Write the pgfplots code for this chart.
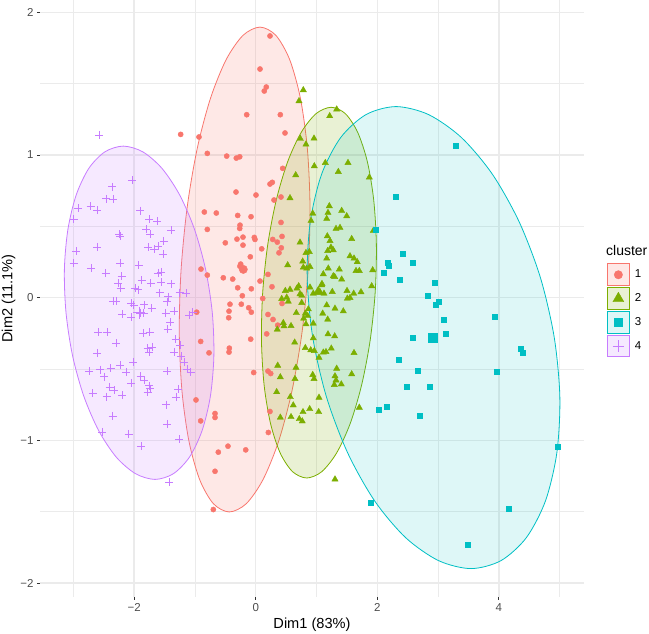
\documentclass[border=0pt]{standalone}
\usepackage{pgfplots}
\pgfplotsset{compat=1.18}
\usepackage{pgfplotstable}
\usepackage{fontspec}
\setmainfont{Liberation Sans}

\definecolor{c1}{HTML}{F8766D}
\definecolor{c2}{HTML}{7CAE00}
\definecolor{c3}{HTML}{00BFC4}
\definecolor{c4}{HTML}{C77CFF}
\definecolor{gridc}{HTML}{EBEBEB}
\definecolor{tickc}{HTML}{333333}
\definecolor{tickl}{HTML}{4D4D4D}

\pgfplotsset{
  keyimg/.style n args={3}{legend image code/.code={%
    \draw[#1, fill=#1!#3, line width=1pt] (0pt,-10.8pt) rectangle (22pt,10.8pt);
    \draw[##1, mark size=#2] plot coordinates {(11pt,0pt)};}},
}

% cluster 1
\pgfplotstableread{
x y
0.235 1.834
0.071 1.602
0.174 1.476
0.141 1.448
-0.148 1.282
0.405 1.282
0.482 1.154
-1.234 1.144
-0.933 1.126
-0.796 1.011
-0.477 0.992
-0.319 0.978
-0.263 0.987
0.444 0.906
0.235 0.796
0.273 0.808
-0.324 0.740
0.005 0.719
0.301 0.684
0.416 0.705
-0.845 0.600
-0.648 0.593
-0.296 0.576
-0.077 0.567
-0.258 0.508
-0.263 0.485
0.416 0.527
-0.796 0.478
-0.308 0.410
-0.209 0.424
-0.023 0.422
-0.012 0.408
-0.500 0.384
-0.209 0.368
0.280 0.408
0.355 0.389
0.433 0.429
0.421 0.349
0.099 0.342
0.383 0.314
-0.089 0.286
-0.247 0.235
-0.260 0.220
-0.900 0.200
-0.796 0.158
-0.533 0.139
-0.378 0.130
0.071 0.116
0.202 0.163
-0.296 0.069
-0.072 0.062
0.268 0.076
-0.220 0.013
0.115 -0.006
-0.423 -0.046
-0.237 -0.046
-0.115 -0.071
-0.072 -0.102
-0.439 -0.095
-0.444 -0.141
0.202 -0.118
0.285 -0.153
0.362 -0.193
0.433 -0.041
0.181 -0.254
-0.082 -0.291
-0.905 -0.307
-0.768 -0.387
-0.434 -0.354
-0.439 -0.382
-0.033 -0.525
0.202 -0.515
0.247 -0.532
-0.669 -0.812
-0.669 -0.840
0.235 -0.798
-0.905 -0.864
-0.970 -0.102
-0.982 -0.717
-0.615 -1.083
-0.669 -1.217
0.208 -0.945
-0.456 -1.041
-0.164 -1.067
-0.697 -1.485
}\clA

% cluster 2
\pgfplotstableread{
x y
0.783 1.455
0.712 1.378
1.332 1.320
1.217 1.273
0.734 1.114
0.959 1.116
0.827 1.074
0.964 0.922
1.145 0.945
1.359 0.882
0.658 0.859
1.518 0.945
1.869 0.843
0.564 0.698
1.211 0.642
1.414 0.609
0.938 0.590
1.189 0.595
1.497 0.572
1.168 0.553
0.910 0.539
1.321 0.483
1.387 0.490
1.934 0.469
1.178 0.431
1.222 0.398
1.579 0.412
0.729 0.387
1.238 0.352
1.276 0.333
1.184 0.328
1.551 0.291
1.617 0.275
1.670 0.250
1.168 0.275
0.882 0.321
0.827 0.314
0.773 0.254
0.526 0.228
0.893 0.216
0.783 0.212
0.839 0.205
1.194 0.205
1.375 0.198
1.650 0.188
1.704 0.188
1.924 0.193
1.112 0.165
1.276 0.151
1.299 0.146
1.414 0.128
1.090 0.097
1.086 0.088
1.908 0.081
0.893 0.072
0.707 0.081
0.679 0.065
0.564 0.057
0.487 0.048
0.947 0.029
1.058 0.039
1.123 0.029
1.260 0.041
1.502 0.048
1.612 0.029
1.732 0.039
1.551 -0.001
0.729 0.025
0.757 0.015
0.428 -0.008
0.510 0.001
0.536 -0.027
1.507 -0.006
0.757 -0.036
1.168 -0.053
1.304 -0.076
1.441 -0.095
1.102 -0.111
0.668 -0.107
0.816 -0.111
0.866 -0.081
0.855 -0.128
0.789 -0.146
0.947 -0.181
0.827 -0.186
1.184 -0.153
0.454 -0.177
0.465 -0.200
0.581 -0.198
0.355 -0.223
1.189 -0.256
1.299 -0.270
0.947 -0.284
0.641 -0.314
0.816 -0.352
0.905 -0.368
0.964 -0.373
1.112 -0.384
1.156 -0.380
1.243 -0.356
1.617 -0.387
1.041 -0.420
0.362 -0.476
0.663 -0.490
1.332 -0.497
0.405 -0.557
0.646 -0.569
0.938 -0.541
0.959 -0.569
1.579 -0.536
1.304 -0.550
1.321 -0.579
1.293 -0.611
1.408 -0.607
0.345 -0.661
0.569 -0.696
1.041 -0.700
0.618 -0.754
0.778 -0.801
0.888 -0.780
1.036 -0.801
1.704 -0.770
0.405 -0.840
0.581 -0.836
0.717 -0.850
0.766 -0.866
1.304 -1.273
}\clB

% cluster 3
\pgfplotstableread{
x y
3.283 1.065
2.303 0.707
1.979 0.473
2.165 0.247
2.192 0.223
2.418 0.305
2.587 0.247
2.099 0.174
2.368 0.123
2.949 0.107
2.822 0.011
2.961 -0.050
3.003 -0.029
3.097 -0.153
3.936 -0.135
2.582 -0.284
3.125 -0.254
4.359 -0.356
4.391 -0.384
2.345 -0.438
2.669 -0.511
3.964 -0.520
2.477 -0.625
2.855 -0.623
2.017 -0.784
2.148 -0.766
2.697 -0.829
4.961 -1.043
1.896 -1.436
4.166 -1.478
3.487 -1.731
}\clC

% cluster 4
\pgfplotstableread{
x y
-2.572 1.140
-2.034 0.822
-2.359 0.777
-2.457 0.693
-2.347 0.691
-2.918 0.625
-2.714 0.642
-2.610 0.611
-2.993 0.550
-1.903 0.609
-1.750 0.548
-1.618 0.536
-1.388 0.471
-1.804 0.478
-1.734 0.445
-2.248 0.445
-2.227 0.433
-1.513 0.398
-2.951 0.326
-2.610 0.356
-1.771 0.352
-1.668 0.342
-1.602 0.359
-1.520 0.303
-2.993 0.240
-2.704 0.207
-2.467 0.172
-2.227 0.244
-1.924 0.226
-2.204 0.149
-1.607 0.174
-1.553 0.181
-1.875 0.121
-2.260 0.102
-2.220 0.065
-1.985 0.065
-1.931 0.057
-1.727 0.102
-1.553 0.109
-1.393 0.097
-1.579 0.034
-1.437 0.006
-1.250 0.036
-1.141 0.029
-2.342 -0.025
-2.298 -0.025
-2.051 -0.041
-2.007 -0.053
-1.832 -0.050
-1.711 -0.076
-1.898 -0.107
-2.194 -0.118
-2.051 -0.139
-1.842 -0.107
-1.480 -0.107
-1.459 -0.029
-1.344 -0.093
-1.405 -0.170
-1.447 -0.223
-1.097 -0.121
-1.036 -0.102
-2.589 -0.244
-2.446 -0.242
-1.849 -0.251
-1.743 -0.240
-2.293 -0.319
-1.316 -0.291
-1.240 -0.331
-2.605 -0.387
-1.776 -0.356
-1.701 -0.345
-1.755 -0.384
-1.344 -0.380
-1.229 -0.410
-1.174 -0.450
-2.018 -0.450
-2.737 -0.513
-2.556 -0.504
-2.385 -0.494
-2.232 -0.471
-2.490 -0.553
-2.128 -0.522
-1.454 -0.513
-1.125 -0.499
-1.069 -0.520
-1.891 -0.550
-1.832 -0.579
-2.051 -0.597
-1.755 -0.616
-1.738 -0.637
-1.776 -0.661
-2.401 -0.626
-2.326 -0.649
-2.681 -0.670
-2.451 -0.693
-2.199 -0.684
-1.273 -0.640
-1.311 -0.696
-1.470 -0.749
-2.352 -0.829
-1.454 -0.885
-2.528 -0.941
-2.089 -0.955
-1.882 -1.039
-1.262 -0.992
-1.421 -1.292
}\clD

% cluster centres
\pgfplotstableread{
x y
-0.204 0.198
}\cenA
\pgfplotstableread{
x y
1.030 0.041
}\cenB
\pgfplotstableread{
x y
2.911 -0.282
}\cenC
\pgfplotstableread{
x y
-1.917 -0.106
}\cenD

% ellipse outlines (24 points each)
\pgfplotstableread{
x y
0.863 0.197
0.893 0.637
0.849 1.047
0.735 1.398
0.559 1.668
0.332 1.838
0.070 1.896
-0.209 1.838
-0.486 1.668
-0.743 1.398
-0.961 1.047
-1.126 0.637
-1.227 0.197
-1.257 -0.243
-1.213 -0.653
-1.099 -1.004
-0.923 -1.274
-0.696 -1.444
-0.434 -1.502
-0.155 -1.444
0.122 -1.274
0.379 -1.004
0.597 -0.653
0.762 -0.243
}\elA
\pgfplotstableread{
x y
1.965 0.035
1.985 0.371
1.941 0.685
1.836 0.954
1.676 1.160
1.473 1.290
1.240 1.334
0.994 1.290
0.751 1.160
0.527 0.954
0.339 0.685
0.198 0.371
0.115 0.035
0.095 -0.301
0.139 -0.615
0.245 -0.884
0.404 -1.090
0.607 -1.220
0.840 -1.264
1.086 -1.220
1.329 -1.090
1.553 -0.884
1.741 -0.615
1.882 -0.301
}\elB
\pgfplotstableread{
x y
4.911 -0.280
4.684 0.139
4.336 0.529
3.893 0.865
3.384 1.122
2.843 1.283
2.308 1.339
1.815 1.283
1.398 1.122
1.084 0.865
0.897 0.529
0.847 0.139
0.939 -0.280
1.166 -0.699
1.514 -1.089
1.957 -1.425
2.466 -1.682
3.007 -1.843
3.542 -1.899
4.035 -1.843
4.452 -1.682
4.766 -1.425
4.953 -1.089
5.003 -0.699
}\elC
\pgfplotstableread{
x y
-0.714 -0.106
-0.823 0.196
-1.006 0.478
-1.251 0.720
-1.542 0.906
-1.858 1.022
-2.178 1.062
-2.480 1.022
-2.745 0.906
-2.952 0.720
-3.089 0.478
-3.147 0.196
-3.120 -0.106
-3.012 -0.408
-2.828 -0.690
-2.583 -0.932
-2.293 -1.118
-1.976 -1.234
-1.656 -1.274
-1.354 -1.234
-1.090 -1.118
-0.882 -0.932
-0.745 -0.690
-0.688 -0.408
}\elD

\begin{document}
\begin{tikzpicture}
\begin{axis}[
  scale only axis, clip=false,
  width=544pt, height=597pt,
  xmin=-3.548, xmax=5.40, ymin=-2.098, ymax=2.086,
  axis line style={draw=none},
  xtick pos=bottom, ytick pos=left,
  xtick={-2,0,2,4}, xticklabels={−2,0,2,4},
  ytick={-2,-1,0,1,2}, yticklabels={−2,−1,0,1,2},
  minor xtick={-3,-1,1,3,5}, minor ytick={-1.5,-0.5,0.5,1.5},
  grid=both,
  major grid style={color=gridc, line width=1.3pt},
  minor grid style={color=gridc, line width=0.7pt},
  tick align=outside, major tick length=3pt, minor tick length=0pt,
  major tick style={color=tickc, line width=0.8pt},
  tick label style={font=\fontsize{11.5}{13}\selectfont, text=tickl},
  xlabel={Dim1 (83\%)}, ylabel={Dim2 (11.1\%)},
  xlabel style={at={(axis description cs:0.5,-0.0352)}, anchor=north, inner sep=0pt, font=\fontsize{14.6}{16}\selectfont},
  ylabel style={at={(axis description cs:-0.0579,0.5)}, anchor=center, inner sep=0pt, font=\fontsize{14.6}{16}\selectfont},
  legend style={at={(axis description cs:1.0417,0.559)}, anchor=north west, draw=none, fill=none, inner sep=0pt, row sep=1.2pt, column sep=3pt, font=\fontsize{11.5}{13}\selectfont},
  legend cell align=left,
]
% points
\addplot[only marks, mark=*, mark size=2.6pt, color=c1, keyimg={c1}{4.2pt}{17}] table {\clA};
\addlegendentry{1}
\addplot[only marks, mark=triangle*, mark size=3.6pt, color=c2, keyimg={c2}{6.3pt}{17}] table {\clB};
\addlegendentry{2}
\addplot[only marks, mark=square*, mark size=2.5pt, color=c3, keyimg={c3}{3.7pt}{13}] table {\clC};
\addlegendentry{3}
\addplot[only marks, mark=+, mark size=4pt, color=c4, line width=0.6pt, keyimg={c4}{5.8pt}{17}] table {\clD};
\addlegendentry{4}
% centres
\addplot[forget plot, only marks, mark=*, mark size=4.2pt, color=c1] table {\cenA};
\addplot[forget plot, only marks, mark=triangle*, mark size=5.6pt, color=c2] table {\cenB};
\addplot[forget plot, only marks, mark=square*, mark size=4.2pt, color=c3] table {\cenC};
\addplot[forget plot, only marks, mark=+, mark size=6pt, color=c4, line width=0.8pt] table {\cenD};
% ellipses
\addplot[forget plot, smooth cycle, draw=c1, line width=0.8pt, fill=c1, fill opacity=0.17] table {\elA};
\addplot[forget plot, smooth cycle, draw=c2, line width=0.8pt, fill=c2, fill opacity=0.17] table {\elB};
\addplot[forget plot, smooth cycle, draw=c3, line width=0.8pt, fill=c3, fill opacity=0.13] table {\elC};
\addplot[forget plot, smooth cycle, draw=c4, line width=0.8pt, fill=c4, fill opacity=0.17] table {\elD};
\node[anchor=west, inner sep=0pt, font=\fontsize{14}{16}\selectfont] at (axis description cs:1.0404,0.581) {cluster};
\end{axis}
\pgfresetboundingbox
\path[use as bounding box] (-40pt,-37pt) rectangle (609pt,597pt);
\end{tikzpicture}
\end{document}
